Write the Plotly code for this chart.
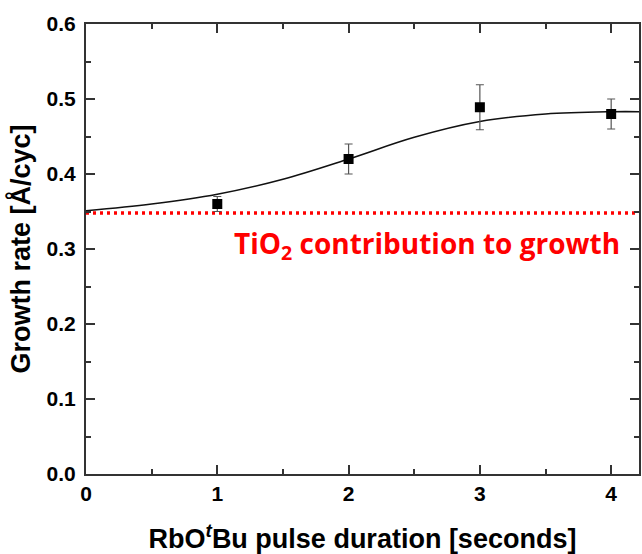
import plotly.graph_objects as go

# Data points (pulse duration [s], growth rate [Å/cyc], error)
pulse = [1, 2, 3, 4]
rate = [0.36, 0.42, 0.489, 0.48]
err = [0.01, 0.02, 0.03, 0.02]

# Fitted curve
fit_x = [0, 0.5, 1, 1.5, 2, 2.5, 3, 3.5, 4, 4.25]
fit_y = [0.351, 0.360, 0.373, 0.393, 0.420, 0.449, 0.470, 0.480, 0.483, 0.483]

# TiO2 contribution level
tio2_level = 0.348
tio2_x = [0, 4.25]

x_ticks = [0, 1, 2, 3, 4]
y_ticks = [0.0, 0.1, 0.2, 0.3, 0.4, 0.5, 0.6]

fig = go.Figure()
fig.add_trace(go.Scatter(
    x=tio2_x, y=[tio2_level] * len(tio2_x), mode="lines",
    line=dict(color="#ff0000", width=3.5, dash="3px,4px"),
    hoverinfo="skip", showlegend=False))
fig.add_trace(go.Scatter(
    x=fit_x, y=fit_y, mode="lines",
    line=dict(color="#111111", width=1.6, shape="spline"),
    showlegend=False))
fig.add_trace(go.Scatter(
    x=pulse, y=rate, mode="markers",
    marker=dict(symbol="square", size=10, color="black"),
    error_y=dict(type="data", array=err, visible=True, color="#555555",
                 thickness=1.2, width=4),
    showlegend=False))

fig.add_annotation(
    x=1.11, y=0.306, xref="x", yref="y", xanchor="left", yanchor="middle",
    text="TiO<sub>2</sub> contribution to growth", showarrow=False,
    font=dict(family="Open Sans", size=28, color="#ff0000", weight="bold"))

axis_common = dict(
    showgrid=False, zeroline=False, showline=True, linecolor="#333333",
    linewidth=2, mirror="ticks", ticks="inside", ticklen=9, tickwidth=2,
    tickcolor="#333333",
    tickfont=dict(family="Liberation Sans", size=21, color="black", weight="bold"),
)

fig.update_xaxes(
    range=[0, 4.212], tickvals=x_ticks, ticktext=[str(v) for v in x_ticks],
    minor=dict(dtick=0.5, tick0=0, ticks="inside", ticklen=5, tickcolor="#333333", tickwidth=1.5),
    title=dict(text="RbO<sup><i>t</i></sup>Bu pulse duration [seconds]",
               font=dict(family="Liberation Sans", size=27, color="black", weight="bold"),
               standoff=26),
    **axis_common)
fig.update_yaxes(
    range=[0, 0.6], tickvals=y_ticks, ticktext=[f"{v:.1f}" for v in y_ticks],
    minor=dict(dtick=0.05, tick0=0, ticks="inside", ticklen=5, tickcolor="#333333", tickwidth=1.5),
    ticklabelstandoff=4,
    title=dict(text="Growth rate [Å/cyc]",
               font=dict(family="Liberation Sans", size=27, color="black", weight="bold"),
               standoff=8),
    **axis_common)

fig.update_layout(
    width=642, height=554,
    margin=dict(l=86, r=1, t=24, b=80),
    plot_bgcolor="white", paper_bgcolor="white",
)

fig.write_html("out.html")
